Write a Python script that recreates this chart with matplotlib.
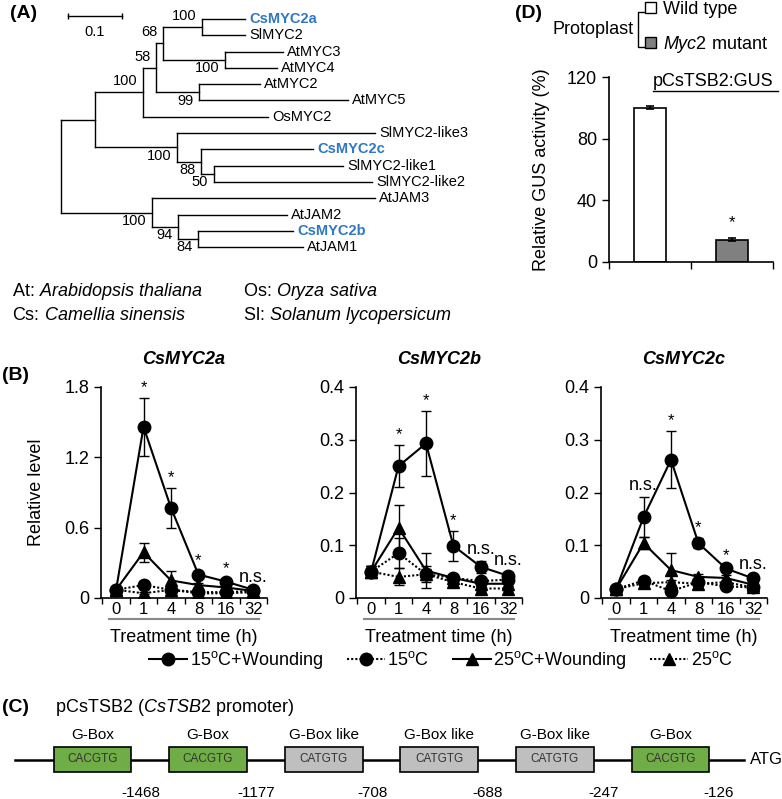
import matplotlib
matplotlib.use('Agg')
import matplotlib.pyplot as plt
from matplotlib.lines import Line2D
from matplotlib.patches import Patch, Rectangle
import numpy as np

plt.rcParams['font.family'] = ['Liberation Sans', 'DejaVu Sans']
plt.rcParams['mathtext.fontset'] = 'custom'
plt.rcParams['mathtext.rm'] = 'Liberation Sans'
plt.rcParams['mathtext.it'] = 'Liberation Sans:italic'
plt.rcParams['mathtext.bf'] = 'Liberation Sans:bold'

W, H = 782, 799
BLUE = '#2f78c4'

# ---- (A) phylogeny: (name, branch length, bootstrap, children)
tree = (None, 0.0, None, [
    (None, 0.063, None, [
        (None, 0.089, 100, [
            (None, 0.024, 58, [
                (None, 0.013, 68, [
                    (None, 0.072, 100, [('CsMYC2a', 0.080, None, []), ('SlMYC2', 0.080, None, [])]),
                    (None, 0.115, 100, [('AtMYC3', 0.107, None, []), ('AtMYC4', 0.096, None, [])]),
                ]),
                (None, 0.080, 99, [('AtMYC2', 0.113, None, []), ('AtMYC5', 0.275, None, [])]),
            ]),
            ('OsMYC2', 0.231, None, []),
        ]),
        (None, 0.152, 100, [
            ('SlMYC2-like3', 0.366, None, []),
            (None, 0.044, 88, [
                ('CsMYC2c', 0.208, None, []),
                (None, 0.024, 50, [('SlMYC2-like1', 0.239, None, []),
                                   ('SlMYC2-like2', 0.293, None, [])]),
            ]),
        ]),
    ]),
    (None, 0.169, 100, [
        ('AtJAM3', 0.412, None, []),
        (None, 0.048, 94, [
            ('AtJAM2', 0.202, None, []),
            (None, 0.037, 84, [('CsMYC2b', 0.176, None, []), ('AtJAM1', 0.194, None, [])]),
        ]),
    ]),
])
species_abbr = ['At', 'Cs', 'Os', 'Sl']
species_name = ['Arabidopsis thaliana', 'Camellia sinensis', 'Oryza sativa', 'Solanum lycopersicum']

# ---- (B) expression time course
times = ['0', '1', '4', '8', '16', '32']
genes = ['CsMYC2a', 'CsMYC2b', 'CsMYC2c']
treatments = [r'15$^{\rm o}$C+Wounding', r'15$^{\rm o}$C', r'25$^{\rm o}$C+Wounding', r'25$^{\rm o}$C']
ymax = [1.8, 0.4, 0.4]
yticks = [[0, 0.6, 1.2, 1.8], [0, 0.1, 0.2, 0.3, 0.4], [0, 0.1, 0.2, 0.3, 0.4]]

mycA_w15 = [0.07, 1.46, 0.77, 0.20, 0.14, 0.07]
mycA_w15_err = [0.01, 0.25, 0.17, 0.03, 0.02, 0.01]
mycA_c15 = [0.07, 0.11, 0.07, 0.05, 0.05, 0.06]
mycA_c15_err = [0.01, 0.03, 0.02, 0.02, 0.01, 0.01]
mycA_w25 = [0.07, 0.39, 0.15, 0.11, 0.09, 0.06]
mycA_w25_err = [0.01, 0.08, 0.08, 0.02, 0.02, 0.01]
mycA_c25 = [0.07, 0.04, 0.07, 0.04, 0.04, 0.05]
mycA_c25_err = [0.01, 0.01, 0.02, 0.01, 0.01, 0.01]
mycA_sig = ['', '*', '*', '*', '*', 'n.s.']

mycB_w15 = [0.05, 0.25, 0.293, 0.099, 0.059, 0.042]
mycB_w15_err = [0.01, 0.04, 0.062, 0.028, 0.012, 0.008]
mycB_c15 = [0.05, 0.085, 0.045, 0.038, 0.032, 0.035]
mycB_c15_err = [0.01, 0.028, 0.015, 0.006, 0.006, 0.006]
mycB_w25 = [0.05, 0.133, 0.052, 0.038, 0.027, 0.027]
mycB_w25_err = [0.01, 0.043, 0.033, 0.006, 0.005, 0.005]
mycB_c25 = [0.05, 0.04, 0.045, 0.03, 0.018, 0.018]
mycB_c25_err = [0.01, 0.016, 0.01, 0.005, 0.004, 0.004]
mycB_sig = ['', '*', '*', '*', 'n.s.', 'n.s.']

mycC_w15 = [0.017, 0.153, 0.262, 0.104, 0.056, 0.037]
mycC_w15_err = [0.003, 0.038, 0.054, 0.01, 0.005, 0.005]
mycC_c15 = [0.017, 0.033, 0.013, 0.03, 0.022, 0.02]
mycC_c15_err = [0.003, 0.006, 0.004, 0.006, 0.004, 0.004]
mycC_w25 = [0.017, 0.104, 0.053, 0.04, 0.038, 0.025]
mycC_w25_err = [0.003, 0.012, 0.032, 0.006, 0.005, 0.005]
mycC_c25 = [0.017, 0.028, 0.03, 0.027, 0.03, 0.02]
mycC_c25_err = [0.003, 0.004, 0.005, 0.005, 0.004, 0.004]
mycC_sig = ['', 'n.s.', '*', '*', '*', 'n.s.']

# ---- (C) promoter elements
motif_types = ['G-Box', 'G-Box', 'G-Box like', 'G-Box like', 'G-Box like', 'G-Box']
motif_seqs = ['CACGTG', 'CACGTG', 'CATGTG', 'CATGTG', 'CATGTG', 'CACGTG']
motif_pos = ['-1468', '-1177', '-708', '-688', '-247', '-126']

# ---- (D) GUS activity
gus_groups = ['Wild type', r'$\mathit{Myc2}$ mutant']
gus_values = [100, 14.5]
gus_err = [1.0, 0.8]
gus_sig = ['', '*']

fig = plt.figure(figsize=(W / 100, H / 100), dpi=100)


def px_axes(left, top, width, height):
    return fig.add_axes([left / W, 1 - (top + height) / H, width / W, height / H])


def fig_line(xs, ys, **kw):
    fig.add_artist(Line2D([x / W for x in xs], [1 - y / H for y in ys],
                          transform=fig.transFigure, **kw))


# ================= (A) =================
ax_t = px_axes(0, 0, 400, 260)
ax_t.set_xlim(-61 / 540, 339 / 540)
ax_t.set_ylim((260 - 19) / 16.3, -19 / 16.3)
ax_t.axis('off')
leaf_counter = [0]


def draw_node(node, parent_x, upper):
    name, bl, boot, kids = node
    x = parent_x + bl
    if not kids:
        y = leaf_counter[0]
        leaf_counter[0] += 1
        cs = name.startswith('Cs')
        ax_t.annotate(name, (x, y), xytext=(3, 0), textcoords='offset points',
                      va='center', ha='left', fontsize=10.5,
                      color=BLUE if cs else 'black', fontweight='bold' if cs else 'normal')
    else:
        ys = [draw_node(k, x, i == 0) for i, k in enumerate(kids)]
        y = (ys[0] + ys[-1]) / 2
        ax_t.plot([x, x], [ys[0], ys[-1]], color='black', lw=1)
    ax_t.plot([parent_x, x], [y, y], color='black', lw=1)
    if boot is not None:
        ax_t.annotate(str(boot), (x, y), xytext=(-4, 8 if upper else -6),
                      textcoords='offset points', ha='right', va='center', fontsize=10.5)
    return y


draw_node(tree, 0.0, True)
ax_t.plot([0.013, 0.113], [-0.18, -0.18], color='black', lw=1, marker='|', ms=5)
ax_t.text(0.063, 0.8, '0.1', ha='center', va='center', fontsize=10.5)

fig.text(10 / W, 1 - 13 / H, '(A)', fontsize=14, fontweight='bold', va='center')
for i, (ab, sp) in enumerate(zip(species_abbr, species_name)):
    xx = 12 if i < 2 else 243
    yy = 292 if i % 2 == 0 else 315
    fig.text(xx / W, 1 - yy / H, ab + ': $\\mathit{' + sp.replace(' ', '\\ ') + '}$',
             fontsize=13, va='center')

# ================= (B) =================
series_sets = [
    (mycA_w15, mycA_w15_err, mycA_c15, mycA_c15_err, mycA_w25, mycA_w25_err, mycA_c25, mycA_c25_err, mycA_sig),
    (mycB_w15, mycB_w15_err, mycB_c15, mycB_c15_err, mycB_w25, mycB_w25_err, mycB_c25, mycB_c25_err, mycB_sig),
    (mycC_w15, mycC_w15_err, mycC_c15, mycC_c15_err, mycC_w25, mycC_w25_err, mycC_c25, mycC_c25_err, mycC_sig),
]
styles = [('o', '-'), ('o', (0, (1, 1))), ('^', '-'), ('^', (0, (1, 1)))]
x = np.arange(len(times))
for g, (gene, data, left) in enumerate(zip(genes, series_sets, [101, 356, 601])):
    ax = px_axes(left, 387, 166, 211)
    means = [data[0], data[2], data[4], data[6]]
    errs = [data[1], data[3], data[5], data[7]]
    sig = data[8]
    order = [3, 1, 2, 0]
    for k in order:
        mk, ls = styles[k]
        ax.errorbar(x, means[k], yerr=errs[k], color='black', marker=mk, ms=9,
                    linestyle=ls, lw=1.5, capsize=3.5, elinewidth=1, capthick=1, zorder=3 + (k == 0))
    for i, s in enumerate(sig):
        if s:
            top = means[0][i] + errs[0][i]
            ax.annotate(s, (x[i], top), xytext=(0, 2), textcoords='offset points',
                        ha='center', va='bottom', fontsize=13 if s == 'n.s.' else 12)
    ax.set_xlim(-0.55, 5.5)
    ax.set_ylim(0, ymax[g])
    ax.set_yticks(yticks[g])
    ax.set_yticklabels(['0' if v == 0 else f'{v:g}' for v in yticks[g]], fontsize=13)
    ax.set_xticks(x)
    ax.set_xticklabels(times, fontsize=12)
    ax.set_xticks(np.arange(-0.5, 6, 1), minor=True)
    ax.tick_params(axis='x', which='major', length=0, pad=3)
    ax.tick_params(axis='x', which='minor', length=4, direction='out', width=1)
    ax.tick_params(axis='y', length=5, width=1, direction='out')
    for sp in ['top', 'right']:
        ax.spines[sp].set_visible(False)
    for sp in ['left', 'bottom']:
        ax.spines[sp].set_linewidth(1.2)
    ax.add_line(Line2D([0.05, 0.95], [-21 / 211, -21 / 211], transform=ax.transAxes,
                       color='#888888', lw=1.5, clip_on=False))
    ax.text(0.5, -39 / 211, 'Treatment time (h)', transform=ax.transAxes,
            ha='center', va='center', fontsize=13)
    ax.text(0.5, 1 + 27 / 211, gene, transform=ax.transAxes, ha='center', va='center',
            fontsize=13, fontweight='bold', fontstyle='italic')
    if g == 0:
        ax.set_ylabel('Relative level', fontsize=13)
        ax.yaxis.set_label_coords(-0.34, 0.5)

fig.text(2 / W, 1 - 375 / H, '(B)', fontsize=14, fontweight='bold', va='center')
handles = [Line2D([], [], color='black', marker=mk, ms=9, linestyle=ls, lw=1.5) for mk, ls in styles]
fig.legend(handles, treatments, loc='center', bbox_to_anchor=(441 / W, 1 - 660 / H), ncol=4,
           frameon=False, fontsize=13, handlelength=2.1, handletextpad=0.15,
           columnspacing=1.3, borderpad=0)

# ================= (C) =================
ax_c = px_axes(0, 700, 782, 99)
ax_c.set_xlim(-0.8, (782 - 92.5) / 115.6)
ax_c.set_ylim((759.5 - 799) / 25, (759.5 - 700) / 25)
ax_c.axis('off')
ax_c.plot([-0.67, 5.64], [0, 0], color='black', lw=1.8, zorder=1)
for i, (mt, seq, pos) in enumerate(zip(motif_types, motif_seqs, motif_pos)):
    col = '#bfbfbf' if 'like' in mt else '#70ad47'
    ax_c.add_patch(Rectangle((i - 0.337, -0.5), 0.674, 1.0, facecolor=col,
                             edgecolor='black', lw=1.2, zorder=2))
    ax_c.text(i, 0, seq, ha='center', va='center', fontsize=8.5, color='#333333', zorder=3)
    ax_c.text(i, 0.98, mt, ha='center', va='center', fontsize=11)
    ax_c.text(i + 0.42, -1.34, pos, ha='center', va='center', fontsize=11)
ax_c.text(5.69, 0, 'ATG', ha='left', va='center', fontsize=12)
fig.text(2 / W, 1 - 707 / H, '(C)', fontsize=14, fontweight='bold', va='center')
fig.text(55 / W, 1 - 707 / H, r'pCsTSB2 ($\mathit{CsTSB2}$ promoter)', fontsize=13, va='center')

# ================= (D) =================
ax_d = px_axes(609, 77, 164, 185)
xd = np.arange(len(gus_values))
bars = ax_d.bar(xd, gus_values, width=0.4, color=['white', '#808080'], edgecolor='black',
                lw=1.2, yerr=gus_err, capsize=3,
                error_kw=dict(elinewidth=1.2, capthick=1.2, ecolor='black'))
for i, s in enumerate(gus_sig):
    if s:
        ax_d.annotate(s, (xd[i], gus_values[i] + gus_err[i]), xytext=(0, 6),
                      textcoords='offset points', ha='center', va='bottom', fontsize=12)
ax_d.set_xlim(-0.5, 1.5)
ax_d.set_ylim(0, 120)
ax_d.set_yticks([0, 40, 80, 120])
ax_d.set_yticklabels(['0', '40', '80', '120'], fontsize=13)
ax_d.set_xticks([])
ax_d.set_xticks([-0.5, 0.5, 1.5], minor=True)
ax_d.tick_params(axis='x', which='minor', length=5, direction='out', width=1)
ax_d.tick_params(axis='y', length=5, width=1)
for sp in ['top', 'right']:
    ax_d.spines[sp].set_visible(False)
for sp in ['left', 'bottom']:
    ax_d.spines[sp].set_linewidth(1.2)
ax_d.set_ylabel('Relative GUS activity (%)', fontsize=13)
ax_d.yaxis.set_label_coords((550 - 609) / 164, 0.5)
fig.text(653 / W, 1 - 81 / H, 'pCsTSB2:GUS', fontsize=13, va='center')
fig_line([653, 778], [91, 91], color='black', lw=1)

leg_handles = [Patch(facecolor=c, edgecolor='black', lw=1) for c in ['white', '#808080']]
fig.legend(leg_handles, gus_groups, loc='center left', bbox_to_anchor=(645 / W, 1 - 28 / H),
           frameon=False, fontsize=13, handlelength=0.6, handleheight=0.6,
           handletextpad=0.4, labelspacing=0.9, borderpad=0, borderaxespad=0)
fig.text(528 / W, 1 - 13 / H, '(D)', fontsize=14, fontweight='bold', va='center', ha='center')
fig.text(593 / W, 1 - 30 / H, 'Protoplast', fontsize=13, va='center', ha='center')
fig_line([645, 638, 638, 645], [12, 12, 47, 47], color='black', lw=1)

fig.savefig('out.png', dpi=100)
